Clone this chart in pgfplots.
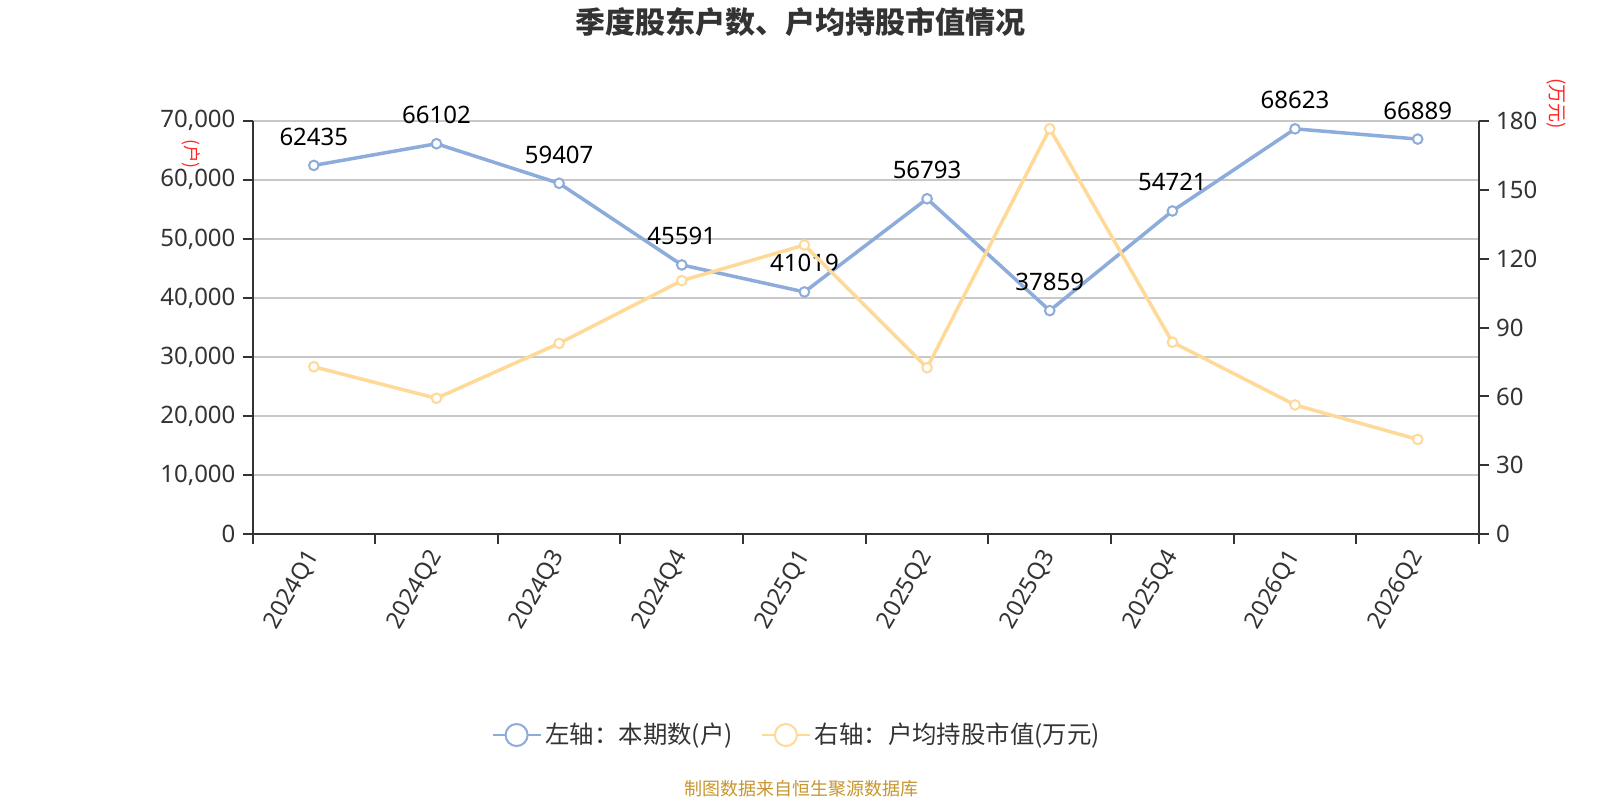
\documentclass[border=0pt]{standalone}
\usepackage{pgfplots}
\pgfplotsset{compat=1.18}
\usepackage{fontspec}
\setmainfont{Noto Sans}
\newfontfamily\cjk{Noto Sans CJK SC}
\definecolor{blueL}{HTML}{8DABDB}
\definecolor{yelL}{HTML}{FFD998}
\definecolor{axc}{HTML}{333333}
\definecolor{gridc}{HTML}{C8C8C8}
\definecolor{txt}{HTML}{333333}
\definecolor{src}{HTML}{C8962E}
\begin{document}
\begin{tikzpicture}
\useasboundingbox[fill=white] (0,0) rectangle (800pt,400pt);
\pgfplotsset{
  common/.style={
    scale only axis, width=613.25pt, height=206.8pt,
    at={(126.25pt,132.85pt)}, anchor=south west,
    xmin=-0.5, xmax=9.5, ymin=0,
    tick align=outside,
    major tick length=5pt,
    tick style={axc, line width=1pt},
    axis line style={axc, line width=1pt, -},
    tick label style={font=\fontsize{12}{14}\selectfont, text=txt},
    /pgf/number format/assume math mode=true,
    clip=false,
  }
}
\begin{axis}[common,
  ymax=70000, ytick={0,10000,...,70000},
  scaled y ticks=false,
  yticklabel style={/pgf/number format/.cd, fixed, 1000 sep={,}},
  axis x line*=bottom, axis y line*=left,
  ymajorgrids, grid style={gridc, line width=0.8pt},
  xtick={-0.5,0.5,...,9.5}, xticklabels={},
  extra x ticks={0,1,2,3,4,5,6,7,8,9},
  extra x tick labels={2024Q1,2024Q2,2024Q3,2024Q4,2025Q1,2025Q2,2025Q3,2025Q4,2026Q1,2026Q2},
  extra x tick style={tick style={draw=none}},
  xticklabel style={rotate=60, anchor=east, font=\fontsize{11.8}{13}\selectfont, yshift=-2pt},
]
\addplot[blueL, line width=1.75pt, mark=*, mark size=2.4pt,
  mark options={fill=white, draw=blueL, line width=1pt},
  nodes near coords={\pgfmathprintnumber[fixed,1000 sep={}]{\pgfplotspointmeta}},
  every node near coord/.append style={anchor=center, yshift=14.3pt, font=\fontsize{12}{14}\selectfont, text=black}]
  coordinates {(0,62435)(1,66102)(2,59407)(3,45591)(4,41019)(5,56793)(6,37859)(7,54721)(8,68623)(9,66889)};
\end{axis}
\begin{axis}[common,
  ymax=180, ytick={0,30,...,180},
  axis y line*=right, axis x line=none, xtick=\empty,
  legend columns=2,
  legend style={at={(0.4445,-0.4853)}, anchor=center, draw=none, fill=none,
    font=\cjk\fontsize{12.2}{14}\selectfont, text=txt,
    /tikz/every even column/.append style={column sep=12pt}},
  legend cell align=left,
  legend image code/.code={\draw[line width=1pt] (0pt,0pt) -- (24pt,0pt);
     \draw[line width=1pt, fill=white] (12pt,0pt) circle (5.5pt);},
]
\addlegendimage{blueL}
\addlegendentry{左轴：本期数(户)}
\addplot[yelL, line width=1.75pt, mark=*, mark size=2.4pt,
  mark options={fill=white, draw=yelL, line width=1pt}]
  coordinates {(0,72.9)(1,59.2)(2,83.1)(3,110.4)(4,125.9)(5,72.5)(6,176.5)(7,83.6)(8,56.3)(9,41.3)};
\addlegendentry{右轴：户均持股市值(万元)}
\end{axis}
\node[font=\cjk\bfseries\fontsize{15}{17}\selectfont, text=txt] at (400pt,388.8pt) {季度股东户数、户均持股市值情况};
\node[rotate=-90, text=red!85!white, font=\cjk\fontsize{8.8}{10}\selectfont] at (95.5pt,323pt) {(户)};
\node[rotate=-90, text=red!85!white, font=\cjk\fontsize{9.5}{10}\selectfont] at (778pt,348pt) {(万元)};
\node[font=\cjk\fontsize{9}{10}\selectfont, text=src] at (400.5pt,5.4pt) {制图数据来自恒生聚源数据库};
\end{tikzpicture}
\end{document}
